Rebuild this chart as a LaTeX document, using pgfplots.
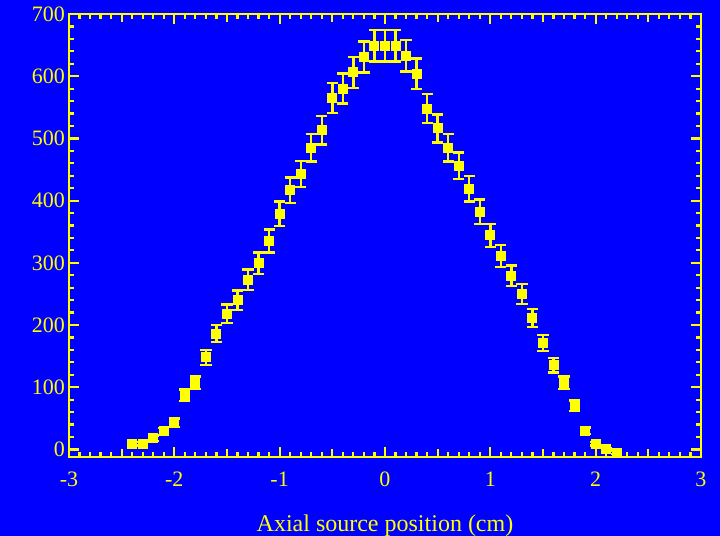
\documentclass[border=0pt]{standalone}
\usepackage{pgfplots}
\pgfplotsset{compat=1.18}
\usepackage{fontspec}
\setmainfont{Liberation Serif}
\definecolor{bgblue}{RGB}{0,0,255}
\definecolor{fg}{RGB}{255,255,0}
\pgfplotstableread{
x y e
-2.4 9 3
-2.3 9 3
-2.2 18 4.2
-2.1 29 5.4
-2.0 43 6.6
-1.9 87 9.3
-1.8 107 10.3
-1.7 148 12.2
-1.6 186 13.6
-1.5 218 14.8
-1.4 240 15.5
-1.3 273 16.5
-1.2 299 17.3
-1.1 335 18.3
-1.0 379 19.5
-0.9 417 20.4
-0.8 443 21.0
-0.7 485 22.0
-0.6 513 22.6
-0.5 565 23.8
-0.4 580 24.1
-0.3 606 24.6
-0.2 631 25.1
-0.1 649 25.5
0.0 649 25.5
0.1 649 25.5
0.2 633 25.2
0.3 604 24.6
0.4 548 23.4
0.5 516 22.7
0.6 485 22.0
0.7 456 21.4
0.8 419 20.5
0.9 382 19.5
1.0 344 18.5
1.1 311 17.6
1.2 279 16.7
1.3 250 15.8
1.4 211 14.5
1.5 171 13.1
1.6 135 11.6
1.7 107 10.3
1.8 70 8.4
1.9 30 5.5
2.0 9 3
2.1 1 1
2.2 -5 2
}\datatable
\begin{document}
\begin{tikzpicture}
\path[use as bounding box, fill=bgblue] (-34.5pt,-39.5pt) rectangle (325.5pt,228.5pt);
\begin{axis}[
  at={(0,0)}, anchor=south west,
  scale only axis, width=316pt, height=221.5pt,
  xmin=-3, xmax=3, ymin=-12.2, ymax=700,
  xtick={-3,-2,-1,0,1,2,3},
  ytick={0,100,200,300,400,500,600,700},
  minor x tick num=9, minor y tick num=4,
  extra x ticks={-2.5,-1.5,-0.5,0.5,1.5,2.5},
  extra x tick labels={},
  extra x tick style={major tick length=3.8pt, tick style={line width=1.1pt, color=fg}},
  tick align=inside,
  major tick length=5pt, minor tick length=2.5pt,
  tick style={line width=1.1pt, color=fg},
  axis line style={line width=1.3pt, color=fg},
  axis background/.style={fill=bgblue},
  every tick label/.append style={font=\fontsize{11}{12}\selectfont, color=fg},
  /pgf/number format/assume math mode=true,
  xticklabel style={yshift=-4pt},
  yticklabel style={xshift=1.5pt},
  xlabel={Axial source position (cm)},
  xlabel style={font=\fontsize{12}{13}\selectfont, color=fg, yshift=-7pt},
]
\addplot[color=fg, only marks, mark=square*, mark size=1.9pt, line width=1.2pt,
  error bars/.cd, y dir=both, y explicit,
  error bar style={line width=1.2pt, color=fg},
  error mark options={rotate=90, mark size=2.8pt, line width=1.2pt, color=fg}]
  table[x=x, y=y, y error=e] {\datatable};
\end{axis}
\end{tikzpicture}
\end{document}
